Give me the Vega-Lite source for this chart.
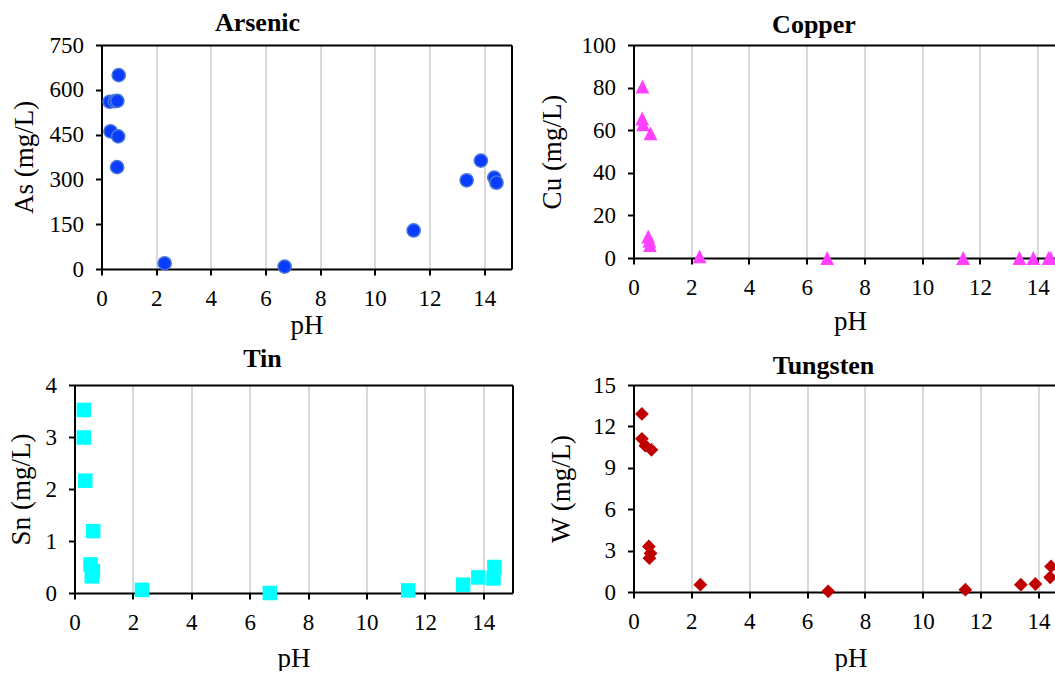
{
  "$schema": "https://vega.github.io/schema/vega-lite/v6.json",
  "background": "white",
  "padding": {"left": 6.5, "top": 9, "right": 0, "bottom": 0},
  "config": {
    "font": "Liberation Serif",
    "view": {"stroke": null},
    "axis": {
      "labelFont": "Liberation Serif", "titleFont": "Liberation Serif",
      "labelFontSize": 23, "titleFontSize": 27, "labelColor": "black", "titleColor": "black",
      "titleFontWeight": "normal", "domainColor": "black", "domainWidth": 2,
      "tickColor": "black", "tickWidth": 2, "tickSize": 6, "labelPadding": 12,
      "gridColor": "#d9d9d9", "gridWidth": 2, "labelFlush": false, "labelBound": false
    },
    "axisY": {"grid": false},
    "title": {"font": "Liberation Serif", "fontSize": 26, "fontWeight": "bold", "color": "black"}
  },
  "datasets": {
    "arsenic": [
      {"pH": 0.30, "As": 560}, {"pH": 0.49, "As": 562}, {"pH": 0.58, "As": 563},
      {"pH": 0.33, "As": 461}, {"pH": 0.61, "As": 444}, {"pH": 0.57, "As": 341},
      {"pH": 0.63, "As": 649}, {"pH": 2.31, "As": 19}, {"pH": 6.70, "As": 8},
      {"pH": 11.42, "As": 129}, {"pH": 13.36, "As": 297}, {"pH": 13.88, "As": 363},
      {"pH": 14.37, "As": 306}, {"pH": 14.45, "As": 289}
    ],
    "copper": [
      {"pH": 0.31, "Cu": 80.5}, {"pH": 0.30, "Cu": 65.5}, {"pH": 0.33, "Cu": 62.8},
      {"pH": 0.59, "Cu": 58.5}, {"pH": 0.51, "Cu": 10}, {"pH": 0.55, "Cu": 8},
      {"pH": 0.57, "Cu": 6}, {"pH": 2.29, "Cu": 0.8}, {"pH": 6.71, "Cu": 0},
      {"pH": 11.42, "Cu": 0}, {"pH": 13.37, "Cu": 0}, {"pH": 13.85, "Cu": 0},
      {"pH": 14.38, "Cu": 0}, {"pH": 14.45, "Cu": 0}
    ],
    "tin": [
      {"pH": 0.32, "Sn": 3.52}, {"pH": 0.32, "Sn": 2.99}, {"pH": 0.37, "Sn": 2.16},
      {"pH": 0.64, "Sn": 1.19}, {"pH": 0.55, "Sn": 0.55}, {"pH": 0.63, "Sn": 0.42},
      {"pH": 0.59, "Sn": 0.32}, {"pH": 2.31, "Sn": 0.06}, {"pH": 6.69, "Sn": 0.0},
      {"pH": 11.43, "Sn": 0.05}, {"pH": 13.31, "Sn": 0.16}, {"pH": 13.83, "Sn": 0.30},
      {"pH": 14.38, "Sn": 0.50}, {"pH": 14.35, "Sn": 0.28}
    ],
    "tungsten": [
      {"pH": 0.29, "W": 12.9}, {"pH": 0.29, "W": 11.1}, {"pH": 0.41, "W": 10.6},
      {"pH": 0.62, "W": 10.3}, {"pH": 0.53, "W": 3.3}, {"pH": 0.59, "W": 2.8},
      {"pH": 0.55, "W": 2.45}, {"pH": 2.31, "W": 0.53}, {"pH": 6.73, "W": 0.05},
      {"pH": 11.47, "W": 0.17}, {"pH": 13.39, "W": 0.53}, {"pH": 13.89, "W": 0.58},
      {"pH": 14.43, "W": 1.85}, {"pH": 14.40, "W": 1.06}
    ]
  },
  "concat": [
    {
      "width": 410, "height": 224,
      "title": {"text": "Arsenic", "offset": -1.5, "dx": -49},
      "data": {"name": "arsenic"},
      "resolve": {"axis": {"x": "independent", "y": "independent"}},
      "layer": [
        {
          "mark": {"type": "point", "shape": "circle", "filled": true, "size": 175, "fill": "#0a3cff", "stroke": "#4a78d8", "strokeWidth": 1.5, "opacity": 1},
          "encoding": {
            "x": {"field": "pH", "type": "quantitative", "scale": {"domain": [0, 15], "nice": false, "zero": false},
                  "axis": {"values": [0, 2, 4, 6, 8, 10, 12, 14], "title": "pH", "grid": true, "titlePadding": 2}},
            "y": {"field": "As", "type": "quantitative", "scale": {"domain": [0, 750], "nice": false},
                  "axis": {"values": [0, 150, 300, 450, 600, 750], "title": "As (mg/L)", "titlePadding": 11}}
          }
        },
        {
          "mark": {"type": "point", "opacity": 0, "size": 1},
          "encoding": {
            "x": {"field": "pH", "type": "quantitative", "scale": {"domain": [0, 15], "nice": false, "zero": false},
                  "axis": {"orient": "top", "labels": false, "ticks": false, "title": null, "grid": false}},
            "y": {"field": "As", "type": "quantitative", "scale": {"domain": [0, 750], "nice": false},
                  "axis": {"orient": "right", "labels": false, "ticks": false, "title": null, "grid": false}}
          }
        }
      ]
    },
    {
      "width": 433, "height": 213,
      "title": {"text": "Copper", "offset": -3.5, "dx": -36},
      "data": {"name": "copper"},
      "resolve": {"axis": {"x": "independent", "y": "independent"}},
      "layer": [
        {
          "mark": {"type": "point", "shape": "M0,-1L1,1L-1,1Z", "filled": true, "size": 190, "fill": "#ff40ff", "strokeWidth": 0, "opacity": 1},
          "encoding": {
            "x": {"field": "pH", "type": "quantitative", "scale": {"domain": [0, 15], "nice": false, "zero": false},
                  "axis": {"values": [0, 2, 4, 6, 8, 10, 12, 14], "title": "pH", "grid": true, "titlePadding": 9}},
            "y": {"field": "Cu", "type": "quantitative", "scale": {"domain": [0, 100], "nice": false},
                  "axis": {"values": [0, 20, 40, 60, 80, 100], "title": "Cu (mg/L)", "titlePadding": 14.5}}
          }
        },
        {
          "mark": {"type": "point", "opacity": 0, "size": 1},
          "encoding": {
            "x": {"field": "pH", "type": "quantitative", "scale": {"domain": [0, 15], "nice": false, "zero": false},
                  "axis": {"orient": "top", "labels": false, "ticks": false, "title": null, "grid": false}}
          }
        }
      ]
    },
    {
      "width": 438, "height": 208,
      "title": {"text": "Tin", "offset": 2.5, "dx": -31},
      "data": {"name": "tin"},
      "resolve": {"axis": {"x": "independent", "y": "independent"}},
      "layer": [
        {
          "mark": {"type": "point", "shape": "square", "filled": true, "size": 210, "fill": "#00ffff", "strokeWidth": 0, "opacity": 1},
          "encoding": {
            "x": {"field": "pH", "type": "quantitative", "scale": {"domain": [0, 15], "nice": false, "zero": false},
                  "axis": {"values": [0, 2, 4, 6, 8, 10, 12, 14], "title": "pH", "grid": true, "titlePadding": 11}},
            "y": {"field": "Sn", "type": "quantitative", "scale": {"domain": [0, 4], "nice": false},
                  "axis": {"values": [0, 1, 2, 3, 4], "title": "Sn (mg/L)", "titlePadding": 10}}
          }
        },
        {
          "mark": {"type": "point", "opacity": 0, "size": 1},
          "encoding": {
            "x": {"field": "pH", "type": "quantitative", "scale": {"domain": [0, 15], "nice": false, "zero": false},
                  "axis": {"orient": "top", "labels": false, "ticks": false, "title": null, "grid": false}},
            "y": {"field": "Sn", "type": "quantitative", "scale": {"domain": [0, 4], "nice": false},
                  "axis": {"orient": "right", "labels": false, "ticks": true, "values": [2], "tickSize": 26, "tickWidth": 1, "tickOpacity": 0, "title": null, "grid": false}}
          }
        }
      ]
    },
    {
      "width": 434, "height": 207,
      "title": {"text": "Tungsten", "offset": -4.5, "dx": -27},
      "data": {"name": "tungsten"},
      "resolve": {"axis": {"x": "independent", "y": "independent"}},
      "layer": [
        {
          "mark": {"type": "point", "shape": "diamond", "filled": true, "size": 190, "fill": "#c00000", "strokeWidth": 0, "opacity": 1},
          "encoding": {
            "x": {"field": "pH", "type": "quantitative", "scale": {"domain": [0, 15], "nice": false, "zero": false},
                  "axis": {"values": [0, 2, 4, 6, 8, 10, 12, 14], "title": "pH", "grid": true, "titlePadding": 12}},
            "y": {"field": "W", "type": "quantitative", "scale": {"domain": [0, 15], "nice": false},
                  "axis": {"values": [0, 3, 6, 9, 12, 15], "title": "W (mg/L)", "titlePadding": 17.5}}
          }
        },
        {
          "mark": {"type": "point", "opacity": 0, "size": 1},
          "encoding": {
            "x": {"field": "pH", "type": "quantitative", "scale": {"domain": [0, 15], "nice": false, "zero": false},
                  "axis": {"orient": "top", "labels": false, "ticks": false, "title": null, "grid": false}}
          }
        }
      ]
    }
  ],
  "columns": 2, "align": "each", "center": {"column": true, "row": false}, "bounds": "full",
  "spacing": {"column": 0, "row": 7}
}
